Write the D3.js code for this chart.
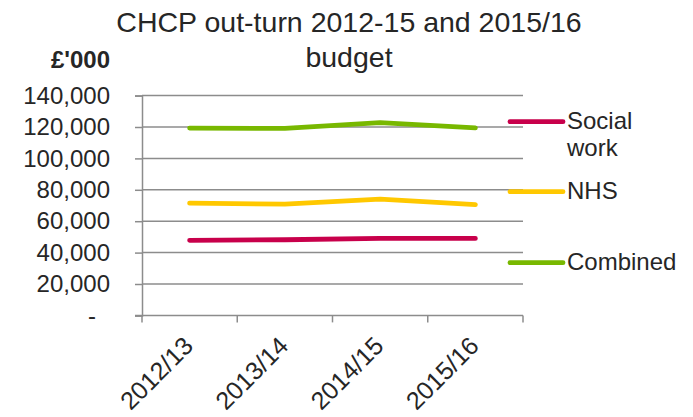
<!DOCTYPE html>
<html lang="en">
  <head>
    <meta charset="UTF-8" />
    <title>CHCP out-turn</title>
    <script src="https://d3js.org/d3.v7.min.js"></script>
    <style>
      body {
        margin: 0;
        background: #fff;
        font-family: "Liberation Sans", Arial, sans-serif;
      }
      text {
        fill: #262626;
      }
    </style>
  </head>
  <body>
    <svg width="693" height="417"></svg>
    <script>
      // Chart data
      const years = ["2012/13", "2013/14", "2014/15", "2015/16"];
      const socialWork = [47800, 48200, 49000, 49000];
      const nhs = [71500, 70900, 74100, 70500];
      const combined = [119300, 119100, 122800, 119500];
      const yTicks = [0, 20000, 40000, 60000, 80000, 100000, 120000, 140000];

      const series = [
        { name: ["Social", "work"], values: socialWork, color: "#c8004b" },
        { name: ["NHS"], values: nhs, color: "#ffc800" },
        { name: ["Combined"], values: combined, color: "#78b800" }
      ];

      const svg = d3.select("svg");
      const plotLeft = 142, plotRight = 523, plotTop = 95.6, plotBottom = 315.4;

      const x = d3.scaleBand().domain(years).range([plotLeft, plotRight]);
      const y = d3.scaleLinear().domain([0, 140000]).range([plotBottom, plotTop]);

      // Gridlines
      svg.append("g")
        .selectAll("line")
        .data(yTicks.slice(1))
        .join("line")
        .attr("x1", plotLeft)
        .attr("x2", plotRight)
        .attr("y1", d => y(d))
        .attr("y2", d => y(d))
        .attr("stroke", "#8c8c8c")
        .attr("stroke-width", 1.5);

      // Y axis
      const yAxis = svg.append("g")
        .attr("transform", `translate(${plotLeft},0)`)
        .call(d3.axisLeft(y).tickValues(yTicks).tickSize(7).tickPadding(25)
          .tickFormat(d => d === 0 ? "-" : d3.format(",")(d)));
      yAxis.select(".domain").attr("stroke", "#8c8c8c").attr("stroke-width", 1.5);
      yAxis.selectAll(".tick line").attr("stroke", "#8c8c8c").attr("stroke-width", 1.5);
      yAxis.selectAll(".tick text")
        .attr("font-size", 24)
        .attr("font-family", "Liberation Sans, Arial, sans-serif")
        .attr("fill", "#262626")
        .filter(d => d === 0)
        .attr("dx", -14);

      // X axis
      const xAxis = svg.append("g")
        .attr("transform", `translate(0,${plotBottom})`);
      xAxis.append("line")
        .attr("x1", plotLeft - 7).attr("x2", plotRight)
        .attr("stroke", "#8c8c8c").attr("stroke-width", 1.5);
      xAxis.selectAll(".xt")
        .data([...years.map(d => x(d)), plotRight])
        .join("line")
        .attr("class", "xt")
        .attr("x1", d => d).attr("x2", d => d)
        .attr("y1", 0).attr("y2", 7)
        .attr("stroke", "#8c8c8c").attr("stroke-width", 1.5);
      xAxis.selectAll("text")
        .data(years)
        .join("text")
        .attr("transform", d => `translate(${x(d) + x.bandwidth() / 2 + 5},${32}) rotate(-45)`)
        .attr("text-anchor", "end")
        .attr("font-size", 25)
        .text(d => d);

      // Lines
      const line = d3.line()
        .x((d, i) => x(years[i]) + x.bandwidth() / 2)
        .y(d => y(d));

      svg.append("g")
        .selectAll("path")
        .data(series)
        .join("path")
        .attr("d", d => line(d.values))
        .attr("fill", "none")
        .attr("stroke", d => d.color)
        .attr("stroke-width", 4.8)
        .attr("stroke-linecap", "round")
        .attr("stroke-linejoin", "round");

      // Legend
      const legendY = [121.7, 191.7, 262.7];
      const legend = svg.append("g")
        .selectAll("g")
        .data(series)
        .join("g")
        .attr("transform", (d, i) => `translate(0,${legendY[i]})`);
      legend.append("line")
        .attr("x1", 510).attr("x2", 563)
        .attr("stroke", d => d.color)
        .attr("stroke-width", 4.8)
        .attr("stroke-linecap", "round");
      legend.append("text")
        .attr("font-size", 24)
        .selectAll("tspan")
        .data(d => d.name)
        .join("tspan")
        .attr("x", 567)
        .attr("y", (d, i) => 7 + i * 27)
        .text(d => d);

      // Title
      const title = svg.append("text")
        .attr("text-anchor", "middle")
        .attr("font-size", 28.5);
      title.append("tspan").attr("x", 349).attr("y", 32).text("CHCP out-turn 2012-15 and 2015/16");
      title.append("tspan").attr("x", 349).attr("y", 67).text("budget");

      // Unit label
      svg.append("text")
        .attr("x", 110)
        .attr("y", 68)
        .attr("text-anchor", "end")
        .attr("font-size", 24)
        .attr("font-weight", "bold")
        .text("£'000");
    </script>
  </body>
</html>
